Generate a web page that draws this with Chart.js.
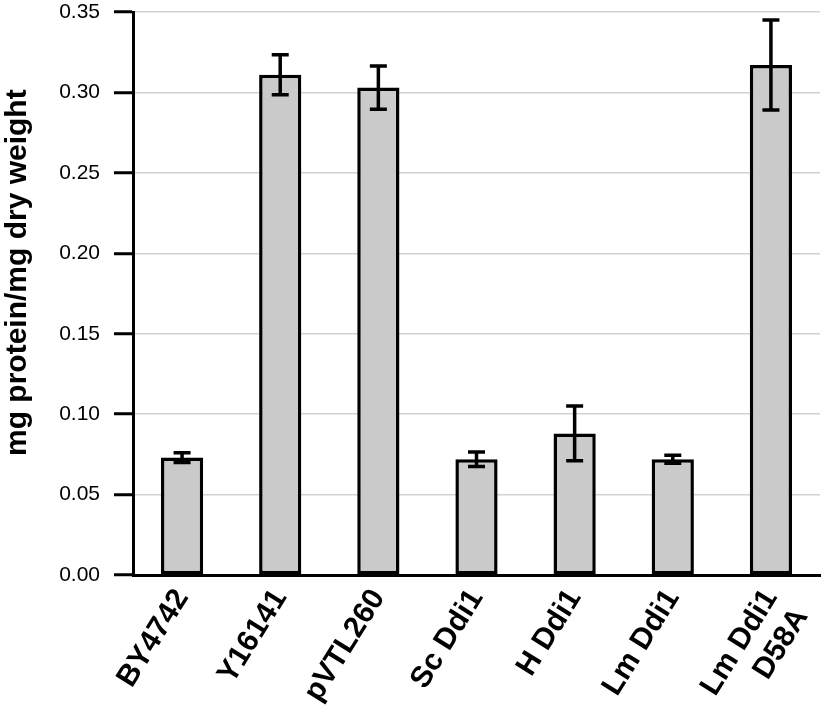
<!DOCTYPE html>
<html>
<head>
<meta charset="utf-8">
<script src="https://cdn.jsdelivr.net/npm/chart.js@4"></script>
<style>
  html, body { margin: 0; padding: 0; background: #fff; }
  #wrap { width: 821px; height: 712px; }
</style>
</head>
<body>
<div id="wrap"><canvas id="chart" width="821" height="712"></canvas></div>
<script>
const categories = ["BY4742", "Y16141", "pVTL260", "Sc Ddi1", "H Ddi1", "Lm Ddi1", ["Lm Ddi1", "D58A"]];
const values = [0.073, 0.311, 0.303, 0.072, 0.088, 0.072, 0.317];
const errors = [0.0030, 0.0125, 0.0135, 0.0045, 0.0170, 0.0025, 0.0280];
const yTicks = [0, 0.05, 0.10, 0.15, 0.20, 0.25, 0.30, 0.35];

const FONT = "'Liberation Sans', Arial, Helvetica, sans-serif";

// draws the error bars on top of the bars
const errorBars = {
  id: "errorBars",
  afterDatasetsDraw(chart){
    const {ctx, scales:{x, y}} = chart;
    ctx.save();
    ctx.strokeStyle = "#000";
    ctx.lineWidth = 3.5;
    ctx.lineCap = "butt";
    values.forEach((v, i) => {
      const cx = x.getPixelForValue(i);
      const top = y.getPixelForValue(v + errors[i]);
      const bot = y.getPixelForValue(v - errors[i]);
      const half = 8.5;
      ctx.beginPath();
      ctx.moveTo(cx, top); ctx.lineTo(cx, bot);
      ctx.moveTo(cx - half, top); ctx.lineTo(cx + half, top);
      ctx.moveTo(cx - half, bot); ctx.lineTo(cx + half, bot);
      ctx.stroke();
    });
    ctx.restore();
  }
};

new Chart(document.getElementById("chart"), {
  type: "bar",
  data: {
    labels: categories,
    datasets: [{
      data: values,
      backgroundColor: "#cacaca",
      borderColor: "#000",
      borderWidth: 3.5,
      borderSkipped: false,
      categoryPercentage: 1,
      barPercentage: 0.43
    }]
  },
  options: {
    responsive: false,
    animation: false,
    layout: {padding: {top: 12, right: 1, left: 0, bottom: 0}},
    plugins: {legend: {display: false}, tooltip: {enabled: false}},
    scales: {
      x: {
        offset: true,
        grid: {display: false, drawTicks: false},
        border: {display: true, color: "#000", width: 3},
        ticks: {
          color: "#000",
          font: {family: FONT, size: 30, weight: "bold"},
          maxRotation: 58, minRotation: 58,
          padding: 8, autoSkip: false
        },
        afterFit(s){ s.height = 137; s.paddingLeft = 0; s.paddingRight = 0; }
      },
      y: {
        min: 0, max: 0.35,
        afterBuildTicks(s){ s.ticks = yTicks.map(v => ({value: v})); },
        grid: {color: "#d2d2d2", lineWidth: 1.5, tickColor: "#000", tickWidth: 3, tickLength: 19},
        border: {display: true, color: "#000", width: 3},
        ticks: {
          color: "#000",
          font: {family: FONT, size: 21},
          padding: 14,
          callback: v => Number(v).toFixed(2)
        },
        title: {
          display: true,
          text: "     mg protein/mg dry weight",
          color: "#000",
          font: {family: FONT, size: 30, weight: "bold"},
          padding: {top: 0, bottom: 0}
        },
        afterFit(s){ s.width = 133; s.paddingTop = 0; s.paddingBottom = 0; }
      }
    }
  },
  plugins: [errorBars]
});
</script>
</body>
</html>
